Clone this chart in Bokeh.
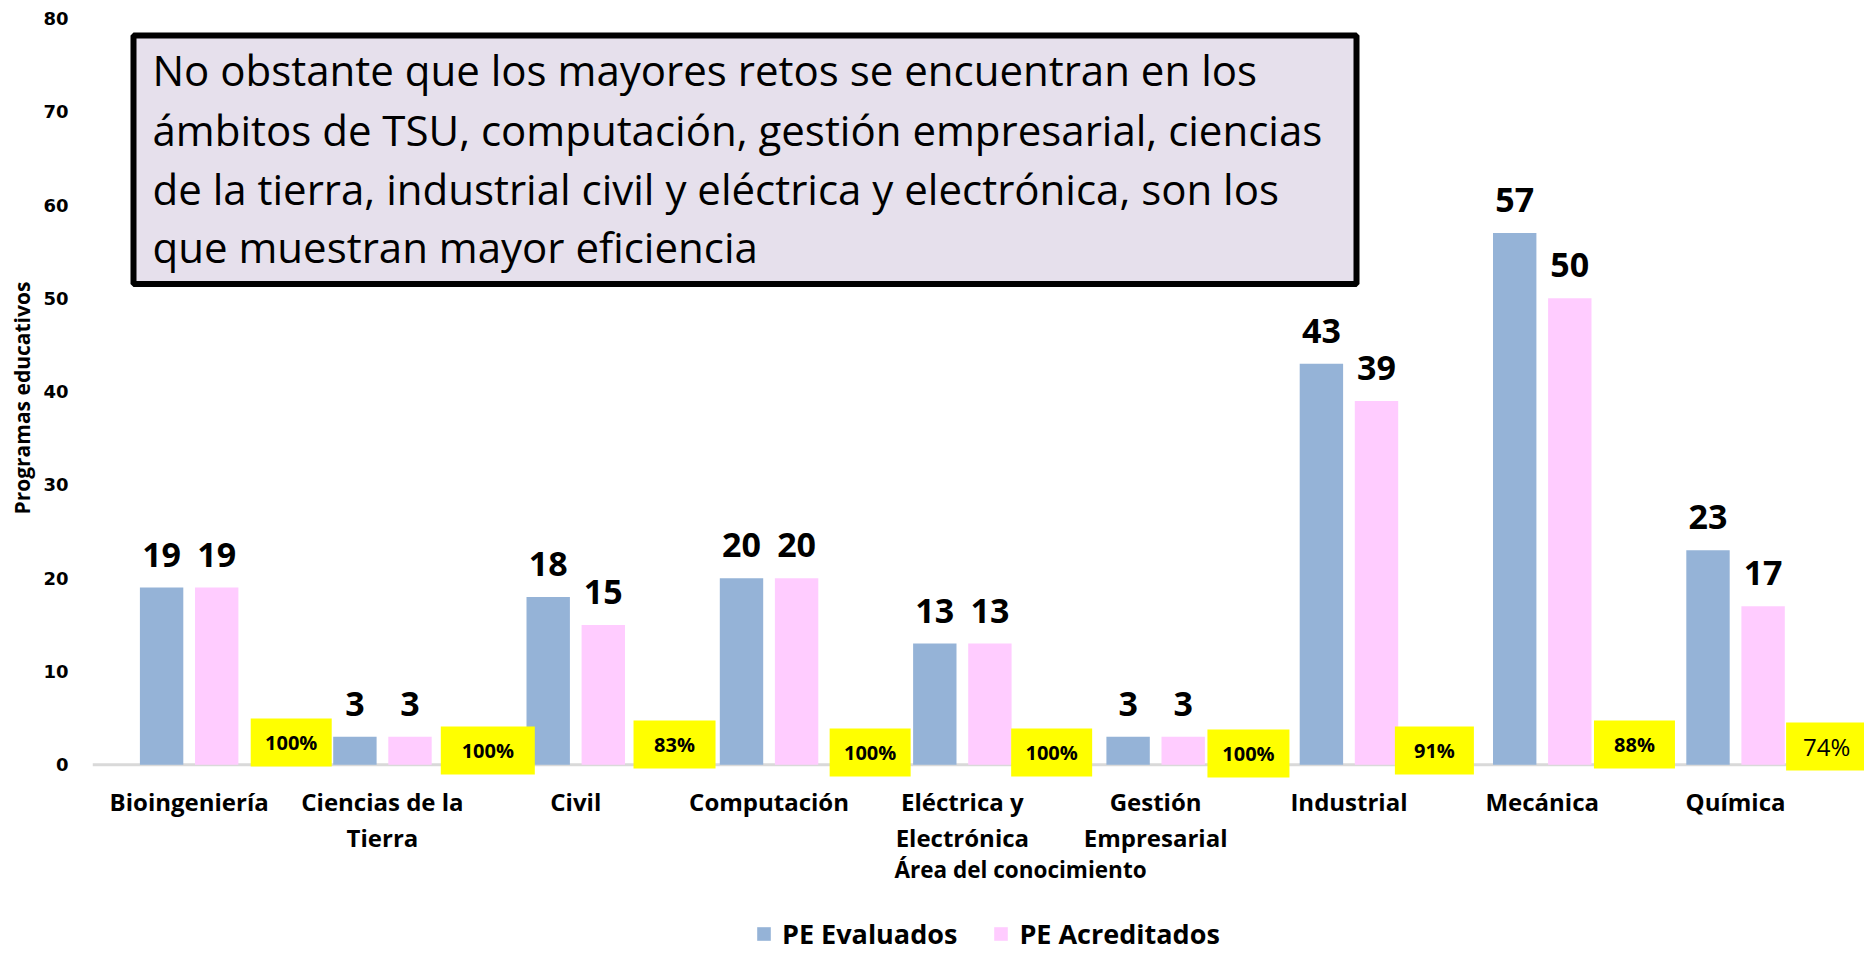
from bokeh.plotting import figure
from bokeh.models import (ColumnDataSource, Range1d, FixedTicker, Span, BoxAnnotation,
                          Label, Legend, LegendItem, Title)
from bokeh.transform import dodge
from bokeh.core.properties import value
from bokeh.embed import file_html
from bokeh.resources import INLINE

# ---------------- data ----------------
categories = ["Bioingeniería", "Ciencias de la\nTierra", "Civil", "Computación",
              "Eléctrica y\nElectrónica", "Gestión\nEmpresarial", "Industrial",
              "Mecánica", "Química"]
pe_evaluados = [19, 3, 18, 20, 13, 3, 43, 57, 23]
pe_acreditados = [19, 3, 15, 20, 13, 3, 39, 50, 17]
eficiencia = ["100%", "100%", "83%", "100%", "100%", "100%", "91%", "88%", "74%"]
y_ticks = [0, 10, 20, 30, 40, 50, 60, 70, 80]
series_names = ["PE Evaluados", "PE Acreditados"]
y_title = "Programas educativos"
x_title = "Área del conocimiento"
note_lines = [
    "No obstante que los mayores retos se encuentran en  los",
    "ámbitos de TSU, computación, gestión empresarial, ciencias",
    "de la tierra, industrial civil y eléctrica y electrónica, son los",
    "que muestran mayor eficiencia",
]

# ---------------- layout ----------------
W, H = 1864, 953
MB_L, MB_R, MB_T, MB_B = 92, 0, 18, 0
CAT_PX = 193.3
PX_PER_Y = 9.329
Y_MAX = 80
frame_w = W - MB_L - MB_R
frame_h = H - MB_T - MB_B
x_end = frame_w / CAT_PX
Y_MIN = Y_MAX - frame_h / PX_PER_Y
ORIGIN_X = MB_L
ORIGIN_Y = MB_T


def dx(px):
    return (px - ORIGIN_X) / CAT_PX


def dy(py):
    return Y_MAX - (py - ORIGIN_Y) / PX_PER_Y


BAR_W = 0.2245
BAR_OFF = 0.1425
# yellow efficiency boxes (layout only)
box_dx = [0.528, 0.545, 0.511, 0.523, 0.462, 0.480, 0.442, 0.477, 0.471]
box_dy = [2.39, 1.53, 2.18, 1.32, 1.32, 1.21, 1.53, 2.18, 1.96]
box_wpx = [81, 94, 82, 81, 81, 82, 79, 81, 81]
pct_style = ["bold"] * 8 + ["normal"]
pct_size = ["20px"] * 8 + ["24px"]

BLUE = "#95B3D7"
PINK = "#FFCCFF"
YELLOW = "#FFFF00"

xs = [i + 0.5 for i in range(len(categories))]
src = ColumnDataSource(dict(
    x=xs,
    ev=pe_evaluados,
    ac=pe_acreditados,
    ev_txt=[str(v) for v in pe_evaluados],
    ac_txt=[str(v) for v in pe_acreditados],
    bx=[x + d for x, d in zip(xs, box_dx)],
    by=box_dy,
    bw=box_wpx,
    pct=eficiencia,
    fs=pct_style,
    fsz=pct_size,
))

p = figure(width=W, height=H, output_backend="svg", toolbar_location=None,
           x_range=Range1d(0, x_end), y_range=Range1d(Y_MIN, Y_MAX),
           min_border_left=MB_L, min_border_right=MB_R,
           min_border_top=MB_T, min_border_bottom=MB_B)
p.outline_line_color = None
p.background_fill_color = "white"
p.border_fill_color = "white"
p.xgrid.visible = False
p.ygrid.visible = False

# baseline
p.add_layout(Span(location=0, dimension="width", line_color="#D9D9D9",
                  line_width=3, level="underlay"))

r1 = p.vbar(x=dodge("x", -BAR_OFF), top="ev", width=BAR_W, source=src,
            fill_color=BLUE, line_color=None)
r2 = p.vbar(x=dodge("x", BAR_OFF), top="ac", width=BAR_W, source=src,
            fill_color=PINK, line_color=None)

lab_kw = dict(text_font=value("Open Sans"), text_font_style="bold",
              text_font_size="34px", text_color="black", text_align="center",
              text_baseline="middle", y_offset=-33, source=src)
p.text(x=dodge("x", -BAR_OFF), y="ev", text="ev_txt", **lab_kw)
p.text(x=dodge("x", BAR_OFF), y="ac", text="ac_txt", **lab_kw)

# efficiency boxes
p.rect(x="bx", y="by", width="bw", width_units="screen", height=48,
       height_units="screen", fill_color=YELLOW, line_color=None, source=src)
p.text(x="bx", y="by", text="pct", text_font=value("Open Sans"),
       text_font_style="fs", text_font_size="fsz", text_color="black",
       text_align="center", text_baseline="middle", source=src)

# y axis
ya = p.yaxis[0]
ya.ticker = FixedTicker(ticks=y_ticks)
ya.axis_line_color = None
ya.major_tick_line_color = None
ya.minor_tick_line_color = None
ya.major_label_text_font = "DejaVu Sans"
ya.major_label_text_font_style = "bold"
ya.major_label_text_font_size = "18px"
ya.major_label_text_color = "black"
ya.major_label_standoff = 18
p.add_layout(Title(text=y_title, align="left", offset=H - 514,
                   vertical_align="middle", standoff=8,
                   text_font="Open Sans", text_font_style="bold",
                   text_font_size="21px", text_color="black"), "left")

# x axis (drawn at a fixed place just under the zero line)
xa = p.xaxis[0]
xa.fixed_location = -1.5
xa.ticker = FixedTicker(ticks=xs)
xa.major_label_overrides = {x: c for x, c in zip(xs, categories)}
xa.axis_line_color = None
xa.major_tick_line_color = None
xa.minor_tick_line_color = None
xa.major_label_text_font = "Open Sans"
xa.major_label_text_font_style = "bold"
xa.major_label_text_font_size = "24px"
xa.major_label_text_color = "black"
xa.major_label_text_line_height = 1.1
xa.major_label_standoff = 0

p.add_layout(Label(x=dx(894), y=dy(869), text=x_title, text_font="Open Sans",
                   text_font_style="bold", text_font_size="22.5px",
                   text_color="black", text_align="left",
                   text_baseline="middle"))

legend = Legend(items=[LegendItem(label=series_names[0], renderers=[r1]),
                       LegendItem(label=series_names[1], renderers=[r2])],
                orientation="horizontal", location=(663, 1),
                label_text_font="Open Sans", label_text_font_style="bold",
                label_text_font_size="27px", label_text_color="black",
                glyph_width=17, glyph_height=17, label_standoff=10, spacing=35,
                padding=0, margin=0, border_line_color=None,
                background_fill_alpha=0)
p.add_layout(legend)

# note box
p.add_layout(BoxAnnotation(left=dx(133), right=dx(1356), top=dy(35), bottom=dy(283.5),
                           fill_color="#E6E0EC", fill_alpha=1.0,
                           line_color="black", line_alpha=1.0, line_width=6))
for line, cy in zip(note_lines, [69, 129, 188, 246]):
    p.add_layout(Label(x=dx(152), y=dy(cy), text=line, text_font="Open Sans",
                       text_font_size="42px", text_color="black",
                       text_align="left", text_baseline="middle"))

open("out.html", "w").write(file_html(p, INLINE))
